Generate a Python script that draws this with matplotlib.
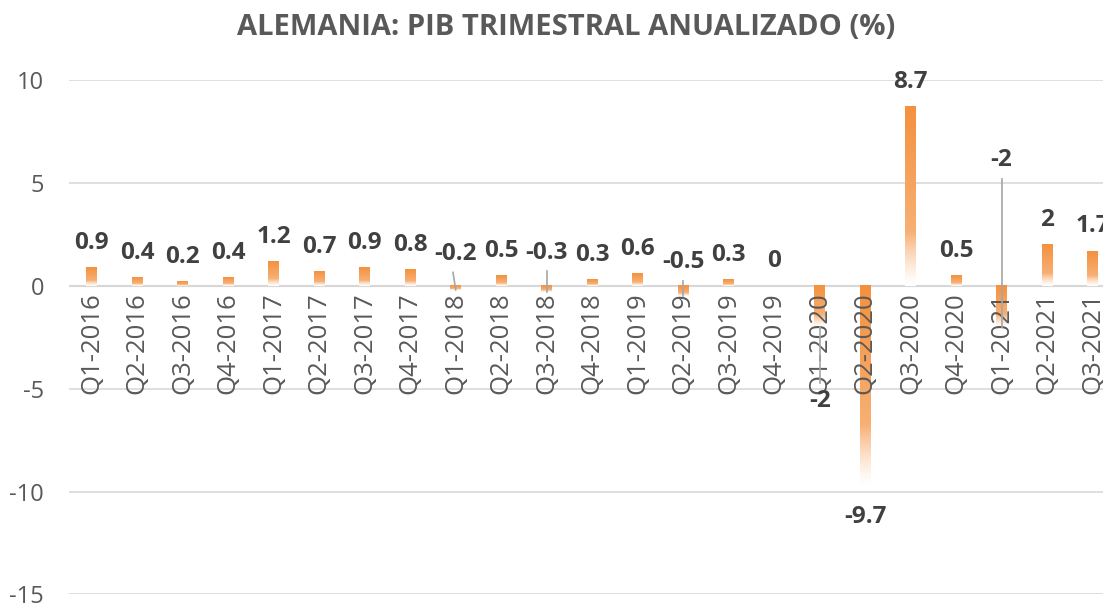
import numpy as np
import matplotlib.pyplot as plt
from matplotlib.colors import to_rgb

plt.rcParams['font.family'] = ['Open Sans', 'DejaVu Sans']
plt.rcParams['axes.unicode_minus'] = False

quarters = ["Q1-2016", "Q2-2016", "Q3-2016", "Q4-2016", "Q1-2017", "Q2-2017",
            "Q3-2017", "Q4-2017", "Q1-2018", "Q2-2018", "Q3-2018", "Q4-2018",
            "Q1-2019", "Q2-2019", "Q3-2019", "Q4-2019", "Q1-2020", "Q2-2020",
            "Q3-2020", "Q4-2020", "Q1-2021", "Q2-2021", "Q3-2021"]
pib = [0.9, 0.4, 0.2, 0.4, 1.2, 0.7, 0.9, 0.8, -0.2, 0.5, -0.3, 0.3,
       0.6, -0.5, 0.3, 0, -2, -9.7, 8.7, 0.5, -2, 2, 1.7]
labels = ["0.9", "0.4", "0.2", "0.4", "1.2", "0.7", "0.9", "0.8", "-0.2", "0.5",
          "-0.3", "0.3", "0.6", "-0.5", "0.3", "0", "-2", "-9.7", "8.7", "0.5",
          "-2", "2", "1.7"]

# label positions that were moved by hand in the original (data units)
moved = {8: 1.55, 10: 1.6, 13: 1.15, 16: -5.6, 17: -11.25, 20: 6.1}

orange = np.array(to_rgb("#F4913E"))
white = np.ones(3)

fig = plt.figure(figsize=(11.03, 6.06), dpi=100)
ax = fig.add_axes([0.0626, 0.019, 0.9486, 0.849])

x = np.arange(len(quarters))
w = 0.24

# gradient: white at the bottom -> orange at the top of every bar
t = np.linspace(0, 1, 200)
frac = np.clip(t / 0.3, 0, 1) ** 1.2
mix = 0.6 + 0.4 * t
cols = white[None, :] * (1 - frac[:, None]) + (orange[None, :] * mix[:, None] + white[None, :] * (1 - mix[:, None])) * frac[:, None]
grad = cols[:, None, :]

for xi, v in zip(x, pib):
    if v == 0:
        continue
    ax.imshow(grad, extent=[xi - w / 2, xi + w / 2, min(0, v), max(0, v)], origin="lower",
              aspect="auto", interpolation="bilinear", zorder=3)

ax.set_xlim(-0.5, len(quarters) - 0.5)
ax.set_ylim(-15, 10)
ax.set_yticks([-15, -10, -5, 0, 5, 10])
ax.set_xticks([])
ax.grid(axis="y", color="#d9d9d9", lw=1.2, zorder=0)
ax.axhline(0, color="#d0d0d0", lw=1.5, zorder=1)
for s in ax.spines.values():
    s.set_visible(False)
ax.tick_params(axis="y", length=0, pad=18, labelsize=17, labelcolor="#595959")

# category labels at the zero line
for xi, q in zip(x, quarters):
    ax.annotate(q, (xi, 0), xytext=(0, -5), textcoords="offset points",
                rotation=90, ha="center", va="top", fontsize=18.5,
                color="#595959", zorder=4)

# value labels
for i, (v, lab) in enumerate(zip(pib, labels)):
    if i in moved:
        yl = moved[i]
        ax.text(x[i], yl, lab, ha="center", va="center", fontsize=17.5,
                fontweight="bold", color="#404040", zorder=5)
        if yl > 0:
            y0 = yl - 0.9
        else:
            y0 = yl + 0.9
        if i != 17:
            ax.plot([x[i] - (0.06 if i == 8 else 0), x[i]], [y0, v], color="#a6a6a6",
                    lw=1.2, zorder=4)
    else:
        ax.annotate(lab, (x[i], max(v, 0)), xytext=(0, 9), textcoords="offset points",
                    ha="center", va="bottom", fontsize=17.5, fontweight="bold",
                    color="#404040", zorder=5)

fig.suptitle("ALEMANIA: PIB TRIMESTRAL ANUALIZADO (%)", x=0.513, y=0.978,
             fontsize=21, fontweight="bold", color="#595959")

fig.savefig("out.png", dpi=100)
